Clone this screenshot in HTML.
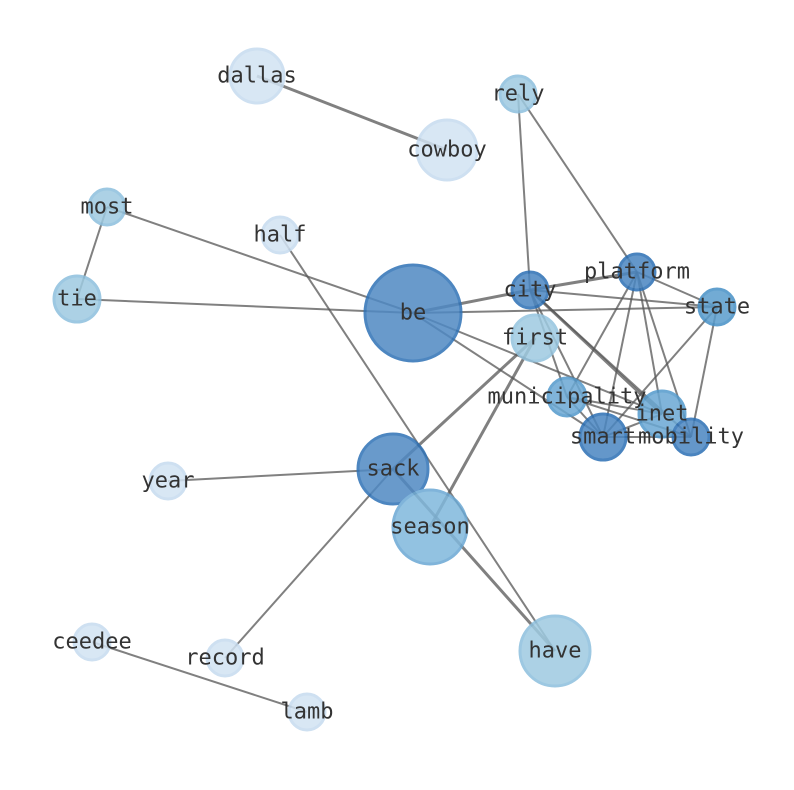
<!DOCTYPE html>
<html><head><style>body{margin:0;background:#fff}svg{display:block}</style></head><body>
<svg width="794" height="790" xmlns="http://www.w3.org/2000/svg">
<g stroke="#555" stroke-opacity="0.75" stroke-width="2">
<line x1="257" y1="76" x2="447" y2="150" stroke-width="3"/>
<line x1="518" y1="94" x2="530" y2="290"/>
<line x1="518" y1="94" x2="637" y2="272"/>
<line x1="107" y1="207" x2="77" y2="299"/>
<line x1="107" y1="207" x2="413" y2="313"/>
<line x1="77" y1="299" x2="413" y2="313"/>
<line x1="413" y1="313" x2="717" y2="307"/>
<line x1="280" y1="235" x2="555" y2="651"/>
<line x1="413" y1="313" x2="530" y2="290" stroke-width="3"/>
<line x1="413" y1="313" x2="603" y2="437"/>
<line x1="413" y1="313" x2="662" y2="414"/>
<line x1="530" y1="290" x2="637" y2="272" stroke-width="3"/>
<line x1="530" y1="290" x2="717" y2="307"/>
<line x1="530" y1="290" x2="567" y2="397"/>
<line x1="530" y1="290" x2="603" y2="437"/>
<line x1="530" y1="290" x2="662" y2="414" stroke-width="3"/>
<line x1="530" y1="290" x2="691" y2="437"/>
<line x1="637" y1="272" x2="717" y2="307"/>
<line x1="637" y1="272" x2="567" y2="397"/>
<line x1="637" y1="272" x2="603" y2="437"/>
<line x1="637" y1="272" x2="662" y2="414"/>
<line x1="637" y1="272" x2="691" y2="437"/>
<line x1="717" y1="307" x2="603" y2="437"/>
<line x1="717" y1="307" x2="691" y2="437"/>
<line x1="567" y1="397" x2="603" y2="437"/>
<line x1="567" y1="397" x2="662" y2="414"/>
<line x1="567" y1="397" x2="691" y2="437"/>
<line x1="603" y1="437" x2="662" y2="414"/>
<line x1="603" y1="437" x2="691" y2="437"/>
<line x1="535" y1="338" x2="393" y2="469" stroke-width="3"/>
<line x1="535" y1="338" x2="430" y2="527" stroke-width="3"/>
<line x1="168" y1="481" x2="393" y2="469"/>
<line x1="393" y1="469" x2="555" y2="651" stroke-width="3"/>
<line x1="393" y1="469" x2="225" y2="658"/>
<line x1="92" y1="642" x2="307" y2="712"/>
</g>
<g stroke-width="3" opacity="0.85">
<circle cx="257" cy="76" r="27" fill="#d2e3f3" stroke="#c6dbef"/>
<circle cx="447" cy="150" r="30" fill="#d2e3f3" stroke="#c6dbef"/>
<circle cx="518" cy="94" r="18" fill="#9ecae1" stroke="#8cbfdd"/>
<circle cx="107" cy="207" r="18" fill="#9ecae1" stroke="#8cbfdd"/>
<circle cx="280" cy="235" r="18" fill="#d2e3f3" stroke="#c6dbef"/>
<circle cx="77" cy="299" r="23" fill="#9ecae1" stroke="#8cbfdd"/>
<circle cx="413" cy="313" r="48" fill="#4f89c3" stroke="#2f72b6"/>
<circle cx="530" cy="290" r="18" fill="#4a86c1" stroke="#2b6fb4"/>
<circle cx="637" cy="272" r="18" fill="#4a86c1" stroke="#2b6fb4"/>
<circle cx="717" cy="307" r="18" fill="#5a9dcd" stroke="#4690c6"/>
<circle cx="535" cy="338" r="23" fill="#9ecae1" stroke="#94c4df"/>
<circle cx="567" cy="397" r="19" fill="#6aa8d4" stroke="#5399cc"/>
<circle cx="662" cy="414" r="23" fill="#6aa8d4" stroke="#5399cc"/>
<circle cx="603" cy="437" r="23" fill="#4a86c1" stroke="#2b6fb4"/>
<circle cx="691" cy="437" r="18" fill="#4a86c1" stroke="#2b6fb4"/>
<circle cx="393" cy="469" r="35" fill="#4f89c3" stroke="#2f72b6"/>
<circle cx="168" cy="481" r="18" fill="#d2e3f3" stroke="#c6dbef"/>
<circle cx="430" cy="527" r="37" fill="#80b8dc" stroke="#6aa8d4"/>
<circle cx="555" cy="651" r="35" fill="#9ecae1" stroke="#8cbfdd"/>
<circle cx="92" cy="642" r="18" fill="#d2e3f3" stroke="#c6dbef"/>
<circle cx="225" cy="658" r="18" fill="#d2e3f3" stroke="#c6dbef"/>
<circle cx="307" cy="712" r="18" fill="#d2e3f3" stroke="#c6dbef"/>
</g>
<g font-family="DejaVu Sans Mono, Liberation Mono, monospace" font-size="22" fill="#333" text-anchor="middle" dominant-baseline="central">
<text x="257" y="76">dallas</text>
<text x="447" y="150">cowboy</text>
<text x="518" y="94">rely</text>
<text x="107" y="207">most</text>
<text x="280" y="235">half</text>
<text x="77" y="299">tie</text>
<text x="413" y="313">be</text>
<text x="530" y="290">city</text>
<text x="637" y="272">platform</text>
<text x="717" y="307">state</text>
<text x="535" y="338">first</text>
<text x="567" y="397">municipality</text>
<text x="662" y="414">inet</text>
<text x="603" y="437">smart</text>
<text x="691" y="437">mobility</text>
<text x="393" y="469">sack</text>
<text x="168" y="481">year</text>
<text x="430" y="527">season</text>
<text x="555" y="651">have</text>
<text x="92" y="642">ceedee</text>
<text x="225" y="658">record</text>
<text x="307" y="712">lamb</text>
</g>
</svg>
</body></html>
